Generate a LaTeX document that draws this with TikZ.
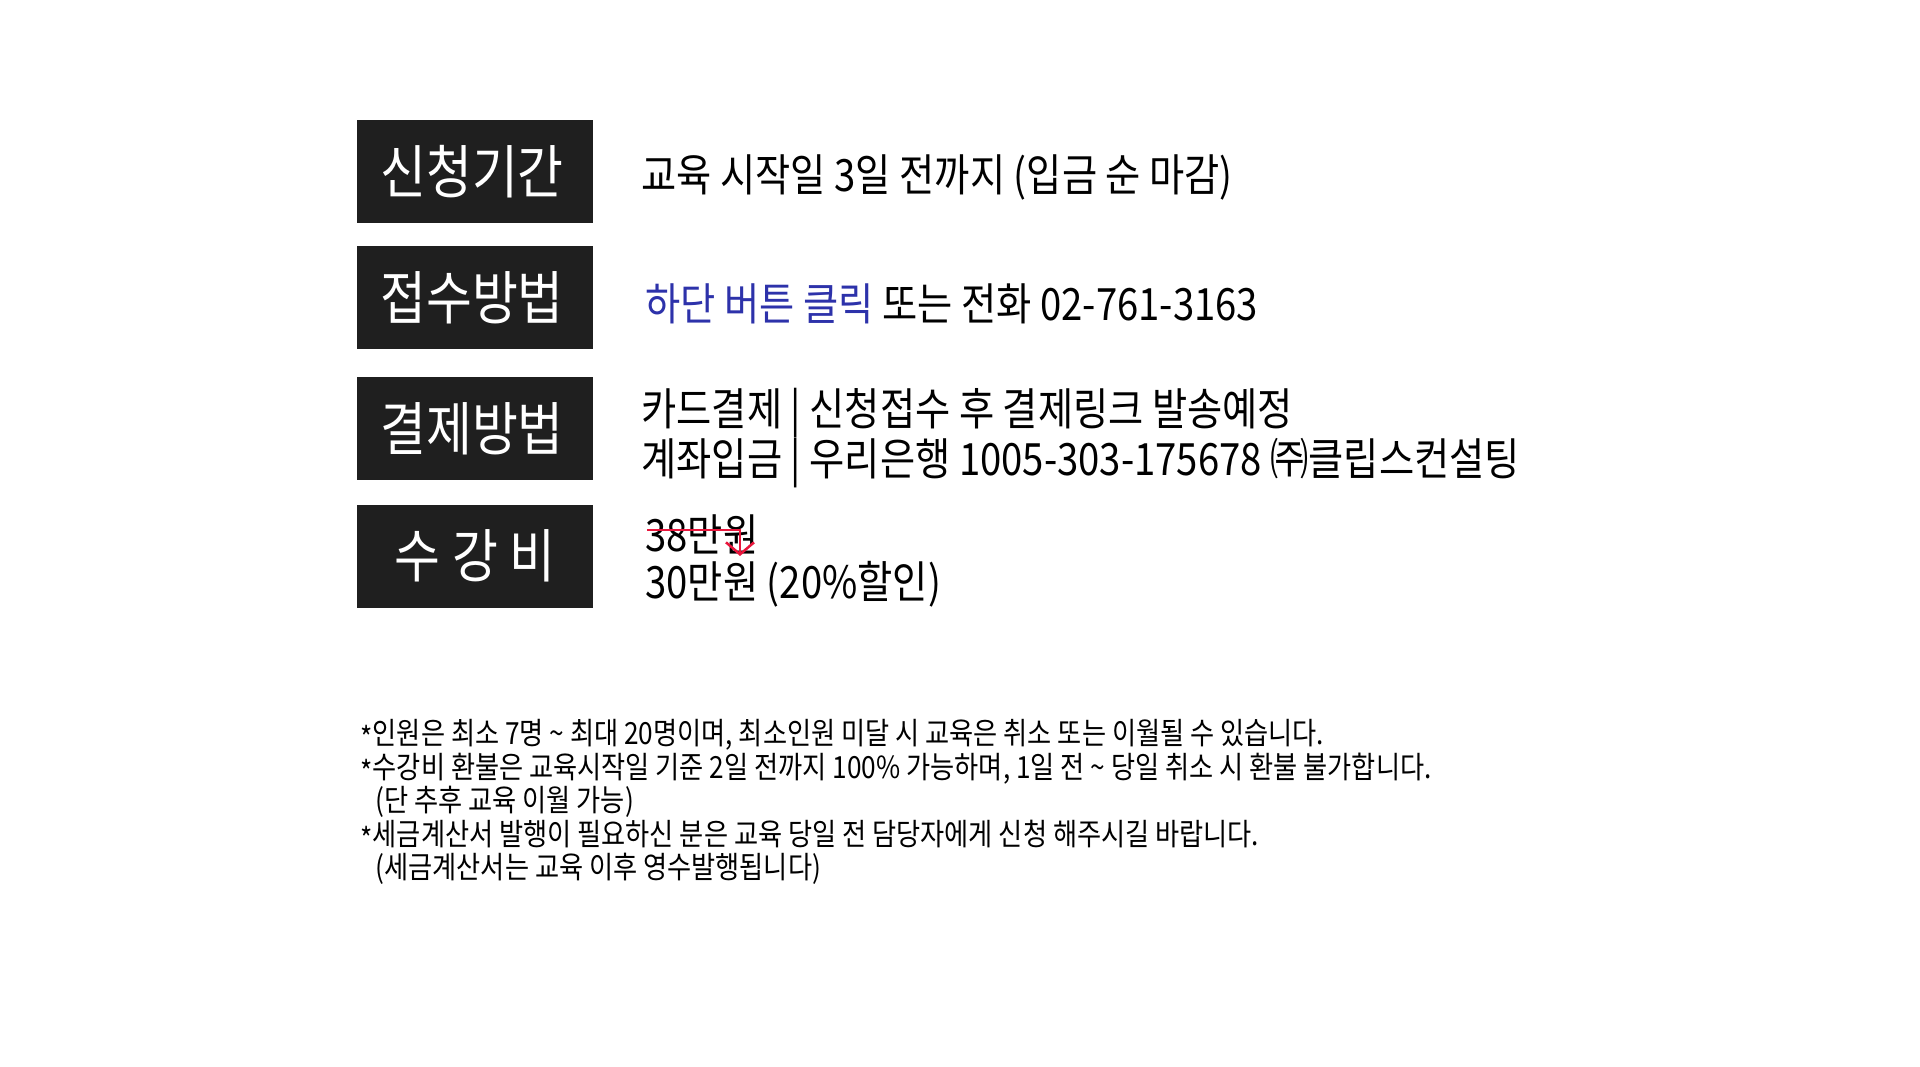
\documentclass[tikz,border=0pt]{standalone}
\usepackage{fontspec}
\usetikzlibrary{arrows.meta}
\setmainfont{Noto Sans CJK KR}[FakeStretch=0.86]
\definecolor{boxgray}{RGB}{31,31,31}
\definecolor{linkblue}{RGB}{45,50,170}
\definecolor{cutred}{RGB}{232,22,60}
\newcommand{\noteast}{\raisebox{-0.3ex}{*}}
\tikzset{
  labelbox/.style={fill=boxgray, text=white, minimum width=236pt, minimum height=103pt, inner sep=0pt, font=\fontsize{58}{62}\selectfont},
  infotext/.style={anchor=west, inner sep=0pt, align=left, font=\fontsize{44.5}{49}\selectfont},
  notetext/.style={anchor=west, inner sep=0pt, align=left, font=\fontsize{30.5}{33.5}\selectfont}
}
\begin{document}
\begin{tikzpicture}[x=1pt,y=-1pt,line width=1pt]
\useasboundingbox[fill=white] (0,0) rectangle (1920,1067);
\foreach \i/\y/\t in {1/172/신청기간\hspace*{6pt},2/297.5/접수방법\hspace*{6pt},3/428.5/결제방법\hspace*{6pt},4/556/수 강 비}
  \node[labelbox] (lab\i) at (475,\y) {\t};
\node[infotext] (period) at (641,177) {교육 시작일 3일 전까지 (입금 순 마감)};
\node[infotext] (apply) at (645,304) {\textcolor{linkblue}{하단 버튼 클릭} 또는 전화 02-761-3163};
\node[infotext] (pay) at (641,438) {카드결제 | 신청접수 후 결제링크 발송예정\\계좌입금 | 우리은행 1005-303-175678 ㈜클립스컨설팅};
\node[infotext] (oldfee) at (645,534) {38만원};
\node[infotext] (newfee) at (645,584) {30만원 (20\%할인)};
\coordinate (cutL) at (647,530);
\coordinate (cutR) at (740,556);
\draw[cutred, line width=2.5pt, -{Straight Barb[length=12pt,width=28pt]}] (cutL) -| (cutR);
\node[notetext] (notes) at (360,802) {\noteast 인원은 최소 7명 \textasciitilde{} 최대 20명이며, 최소인원 미달 시 교육은 취소 또는 이월될 수 있습니다.\\\noteast 수강비 환불은 교육시작일 기준 2일 전까지 100\% 가능하며, 1일 전 \textasciitilde{} 당일 취소 시 환불 불가합니다.\\\hspace*{15pt}(단 추후 교육 이월 가능)\\\noteast 세금계산서 발행이 필요하신 분은 교육 당일 전 담당자에게 신청 해주시길 바랍니다.\\\hspace*{15pt}(세금계산서는 교육 이후 영수발행됩니다)};
\end{tikzpicture}
\end{document}
